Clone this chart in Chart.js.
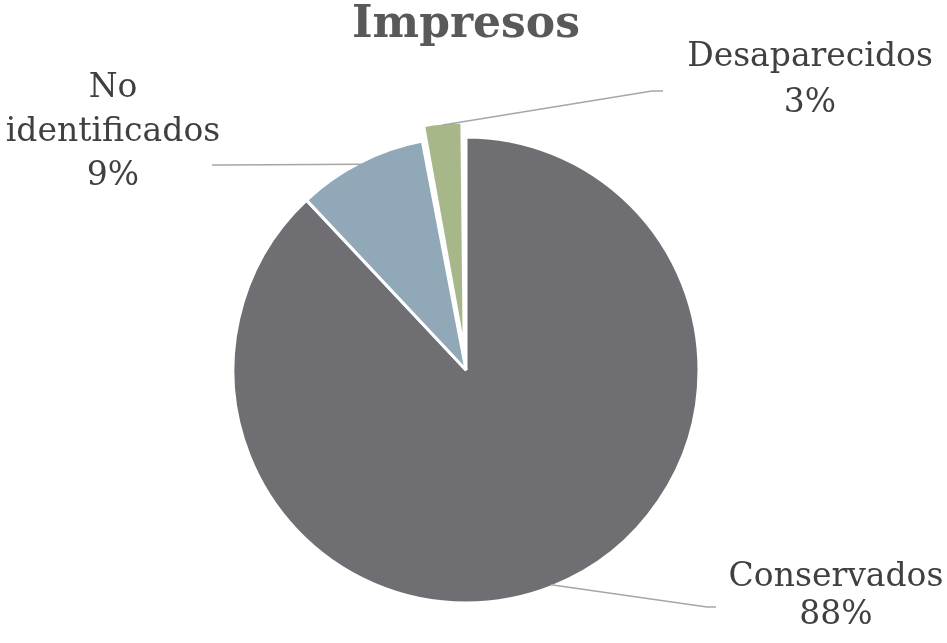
<!DOCTYPE html>
<html>
<head>
<meta charset="utf-8">
<script src="https://cdn.jsdelivr.net/npm/chart.js@4"></script>
<style>
  html, body { margin: 0; padding: 0; background: #fff; }
  #wrap { width: 947px; height: 643px; }
</style>
</head>
<body>
<div id="wrap"><canvas id="graficaImpresos"></canvas></div>
<script>
// DATOS
const titulo = "Impresos";
const categorias = ["Conservados", "No identificados", "Desaparecidos"];
const valores = [88, 9, 3];

// ESTILO
const colores = ["#6F6E73", "#91A8B8", "#A7B78A"];
const radio = 233;
// Chart.js v4 usa offset/4 para agrandar el radio y desplazar el arco
const separacion = [0, 0, 74];

// posiciones de etiquetas: lineas de texto, centro x, base de la primera linea, alto de linea, codo y fin de la guia
const etiquetas = [
    { lineas: ["Conservados"], x: 836, y: 586, alto: 38, codo: [707, 607], fin: [716, 607] },
    { lineas: ["No", "identificados"], x: 113, y: 97, alto: 44, codo: [222, 165], fin: [212, 165] },
    { lineas: ["Desaparecidos"], x: 810, y: 66, alto: 46, codo: [652, 91], fin: [663, 91] }
];

const fuente = "'DejaVu Serif', 'Liberation Serif', serif";

// la porcion separada conserva el mismo radio que las demas
const pluginRadio = {
    id: 'radioFijo',
    afterDatasetUpdate(chart) {
        chart.getDatasetMeta(0).data.forEach((arc, i) => {
            arc.outerRadius = radio - separacion[i] / 4;
        });
    }
};

const pluginEtiquetas = {
    id: 'etiquetas',
    afterDatasetsDraw(chart) {
        const ctx = chart.ctx;
        const meta = chart.getDatasetMeta(0);
        const total = valores.reduce((a, b) => a + b, 0);
        ctx.save();

        // titulo
        ctx.fillStyle = "#595959";
        ctx.font = "bold 44px " + fuente;
        ctx.textAlign = "center";
        ctx.textBaseline = "alphabetic";
        ctx.fillText(titulo, 466, 37);

        meta.data.forEach((arc, i) => {
            const p = arc.getProps(['x', 'y', 'startAngle', 'endAngle', 'outerRadius'], true);
            const medio = (p.startAngle + p.endAngle) / 2;
            const o = separacion[i] / 4;
            const fix = 1 - Math.sin(Math.min(Math.PI, p.endAngle - p.startAngle));
            const r = p.outerRadius + o + o * fix - 2;
            const sx = p.x + Math.cos(medio) * r;
            const sy = p.y + Math.sin(medio) * r;
            const e = etiquetas[i];

            // linea guia
            ctx.strokeStyle = "#A6A6A6";
            ctx.lineWidth = 1.5;
            ctx.beginPath();
            ctx.moveTo(sx, sy);
            ctx.lineTo(e.codo[0], e.codo[1]);
            ctx.lineTo(e.fin[0], e.fin[1]);
            ctx.stroke();

            // texto
            const pct = Math.round(valores[i] / total * 100) + "%";
            const lineas = e.lineas.concat([pct]);
            ctx.fillStyle = "#404040";
            ctx.font = "33px " + fuente;
            ctx.textAlign = "center";
            lineas.forEach((t, k) => ctx.fillText(t, e.x, e.y + k * e.alto));
        });
        ctx.restore();
    }
};

const ctx = document.getElementById('graficaImpresos').getContext('2d');
new Chart(ctx, {
    type: 'pie',
    data: {
        labels: categorias,
        datasets: [{
            data: valores,
            backgroundColor: colores,
            borderColor: '#ffffff',
            borderWidth: 3,
            offset: separacion,
            radius: radio
        }]
    },
    options: {
        responsive: true,
        maintainAspectRatio: false,
        animation: false,
        layout: { padding: { left: 0, right: 15, top: 97, bottom: 0 } },
        plugins: {
            legend: { display: false },
            title: { display: false },
            tooltip: { enabled: false }
        }
    },
    plugins: [pluginRadio, pluginEtiquetas]
});
</script>
</body>
</html>
